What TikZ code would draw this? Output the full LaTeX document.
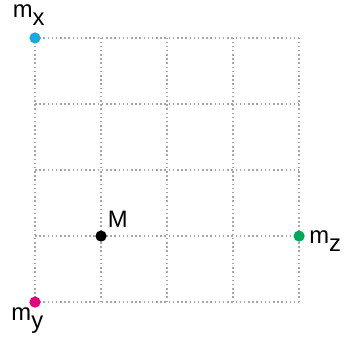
\documentclass[tikz,border=0pt]{standalone}
\usepackage{fontspec}
\setmainfont{Liberation Sans}
\usetikzlibrary{positioning}
\definecolor{mxblue}{HTML}{1BA8E0}
\definecolor{mymagenta}{HTML}{E5007D}
\definecolor{mzgreen}{HTML}{00A859}
\newcommand{\lsub}[1]{\raisebox{-7pt}{#1}}

\begin{document}
\begin{tikzpicture}[
  gridline/.style={gray!70, line width=1.1pt, dash pattern=on 1.3pt off 2.3pt},
  dot/.style={circle, inner sep=0pt, minimum size=0.34cm},
  lbl/.style={font=\fontsize{20.5}{24}\selectfont, inner sep=0pt, anchor=base west}]
\useasboundingbox (-1.06,-1.06) rectangle (9.42,9.15);
% dotted grid
\foreach \i in {0,2,...,8} {
  \draw[gridline] (\i,0) -- (\i,8);
  \draw[gridline] (0,\i) -- (8,\i);
}
% points
\node[dot, fill=mxblue] (mx) at (0,8) {};
\node[dot, fill=mymagenta] (my) at (0,0) {};
\node[dot, fill=mzgreen] (mz) at (8,2) {};
\node[dot, fill=black] (M) at (2,2) {};
% labels
\node[lbl] (mxlabel) at ([shift={(-0.68,0.62)}]mx.center) {m\lsub{x}};
\node[lbl] (mylabel) at ([shift={(-0.72,-0.56)}]my.center) {m\lsub{y}};
\node[lbl] (mzlabel) at ([shift={(0.30,-0.22)}]mz.center) {m\lsub{z}};
\node[lbl] (Mlabel) at ([shift={(0.20,0.27)}]M.center) {M};
\end{tikzpicture}
\end{document}
